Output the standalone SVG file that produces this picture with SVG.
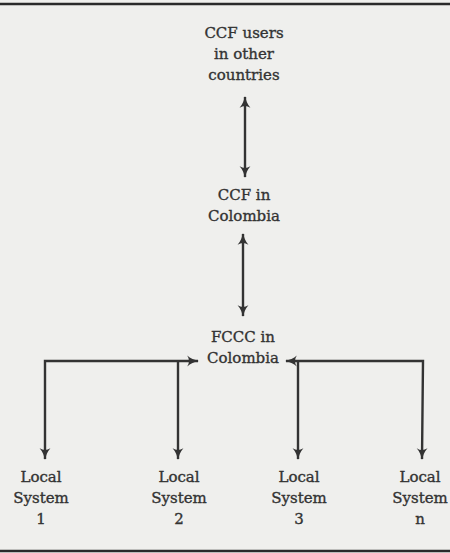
<svg xmlns="http://www.w3.org/2000/svg" width="450" height="553" viewBox="0 0 450 553">
<style>
.t{font-family:"DejaVu Serif","Liberation Serif",serif;font-size:15px;fill:#333;stroke:#333;stroke-width:0.35;text-anchor:middle}
.c{stroke:#333;stroke-width:2.4;fill:none}
.rule{stroke:#2a2a2a;stroke-width:2.5}
</style>
<defs>
<marker id="ah" viewBox="0 0 10 10" refX="9" refY="5" markerWidth="12" markerHeight="12" markerUnits="userSpaceOnUse" orient="auto-start-reverse">
<path d="M0,0.5 Q4,4 10,5 Q4,6 0,9.5 Q3,5 0,0.5 Z" fill="#333"/>
</marker>
</defs>
<rect width="450" height="553" fill="#efefed"/>
<line class="rule" x1="0" y1="4" x2="450" y2="4"/>
<line class="rule" x1="0" y1="551" x2="450" y2="551"/>
<g id="ccf-users"><text class="t" x="244" y="38">CCF users</text><text class="t" x="244" y="59">in other</text><text class="t" x="244" y="80">countries</text></g>
<g id="ccf-colombia"><text class="t" x="244" y="200">CCF in</text><text class="t" x="244" y="221">Colombia</text></g>
<g id="fccc-colombia"><text class="t" x="243" y="342">FCCC in</text><text class="t" x="243" y="363">Colombia</text></g>
<g id="ls1"><text class="t" x="41" y="482">Local</text><text class="t" x="41" y="503">System</text><text class="t" x="41" y="524">1</text></g>
<g id="ls2"><text class="t" x="179" y="482">Local</text><text class="t" x="179" y="503">System</text><text class="t" x="179" y="524">2</text></g>
<g id="ls3"><text class="t" x="299" y="482">Local</text><text class="t" x="299" y="503">System</text><text class="t" x="299" y="524">3</text></g>
<g id="lsn"><text class="t" x="420" y="482">Local</text><text class="t" x="420" y="503">System</text><text class="t" x="420" y="524">n</text></g>
<g id="connectors">
<line class="c" x1="245" y1="97" x2="245" y2="177" marker-start="url(#ah)" marker-end="url(#ah)"/>
<line class="c" x1="243" y1="234" x2="243" y2="316" marker-start="url(#ah)" marker-end="url(#ah)"/>
<polyline class="c" points="45,459 45,361 198,361" marker-start="url(#ah)" marker-end="url(#ah)"/>
<line class="c" x1="178" y1="361" x2="178" y2="459" marker-end="url(#ah)"/>
<polyline class="c" points="422,459 423,361 286,361" marker-start="url(#ah)" marker-end="url(#ah)"/>
<line class="c" x1="298" y1="361" x2="298" y2="459" marker-end="url(#ah)"/>
</g>
</svg>
